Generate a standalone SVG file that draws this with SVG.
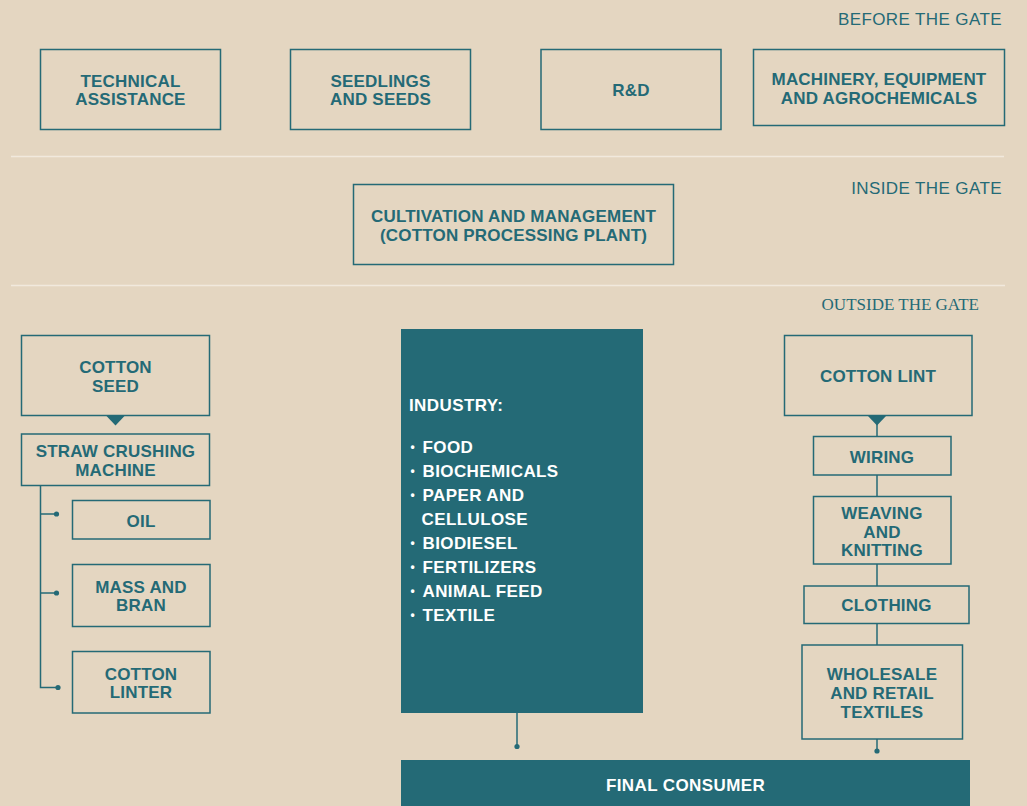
<svg xmlns="http://www.w3.org/2000/svg" width="1027" height="806" viewBox="0 0 1027 806">
  <style>
    .box { fill: none; stroke: #246A76; stroke-width: 1.5; }
    .solid { fill: #246A76; }
    .lbl { font-family: "Liberation Sans", Arial, sans-serif; font-weight: bold; font-size: 17px; letter-spacing: 0.2px; fill: #246A76; text-anchor: middle; }
    .inv { font-family: "Liberation Sans", Arial, sans-serif; font-weight: bold; font-size: 17px; letter-spacing: 0.4px; fill: #FFFFFF; }
    .bullet { font-family: "Liberation Sans", Arial, sans-serif; font-weight: bold; font-size: 12px; fill: #FFFFFF; text-anchor: middle; }
    .zone { font-family: "Liberation Sans", Arial, sans-serif; font-size: 17px; letter-spacing: 0.4px; fill: #246A76; text-anchor: end; }
    .zone-serif { font-family: "Liberation Serif", "Times New Roman", serif; font-size: 17px; fill: #246A76; text-anchor: end; }
    .divider { stroke: #F1E9DD; stroke-width: 1.5; }
    .wire { fill: none; stroke: #246A76; stroke-width: 1.5; }
    .dot { fill: #246A76; }
  </style>

  <rect x="0" y="0" width="1027" height="806" fill="#E4D6C1"/>

  <!-- zone headings and separators -->
  <g id="zones">
    <text class="zone" x="1002" y="25">BEFORE THE GATE</text>
    <line class="divider" x1="11" y1="156.5" x2="1004" y2="156.5"/>
    <text class="zone" x="1002" y="194">INSIDE THE GATE</text>
    <line class="divider" x1="11" y1="285.5" x2="1005" y2="285.5"/>
    <text class="zone-serif" x="979" y="310">OUTSIDE THE GATE</text>
  </g>

  <!-- before the gate -->
  <g id="technical-assistance">
    <rect class="box" x="40.5" y="49.5" width="180" height="80"/>
    <text class="lbl" x="130.5" y="87">TECHNICAL</text>
    <text class="lbl" x="130.5" y="105">ASSISTANCE</text>
  </g>
  <g id="seedlings-and-seeds">
    <rect class="box" x="290.5" y="49.5" width="180" height="80"/>
    <text class="lbl" x="380.5" y="87">SEEDLINGS</text>
    <text class="lbl" x="380.5" y="105">AND SEEDS</text>
  </g>
  <g id="r-and-d">
    <rect class="box" x="541" y="49.5" width="180" height="80"/>
    <text class="lbl" x="631" y="96">R&amp;D</text>
  </g>
  <g id="machinery">
    <rect class="box" x="753.5" y="49.5" width="251" height="76"/>
    <text class="lbl" x="879" y="85">MACHINERY, EQUIPMENT</text>
    <text class="lbl" x="879" y="103.5">AND AGROCHEMICALS</text>
  </g>

  <!-- inside the gate -->
  <g id="cultivation">
    <rect class="box" x="353.5" y="184.5" width="320" height="80"/>
    <text class="lbl" x="513.5" y="222">CULTIVATION AND MANAGEMENT</text>
    <text class="lbl" x="513.5" y="241">(COTTON PROCESSING PLANT)</text>
  </g>

  <!-- connectors -->
  <g id="connectors">
    <!-- cotton seed to crusher -->
    <polygon class="solid" points="106,415.5 125,415.5 115.5,425.5"/>
    <!-- crusher branches -->
    <polyline class="wire" points="40.5,485 40.5,687.5 58,687.5"/>
    <line class="wire" x1="40.5" y1="514" x2="56.5" y2="514"/>
    <line class="wire" x1="40.5" y1="593" x2="56.5" y2="593"/>
    <circle class="dot" cx="56.5" cy="514" r="2.6"/>
    <circle class="dot" cx="56.5" cy="593" r="2.6"/>
    <circle class="dot" cx="58" cy="687.5" r="2.6"/>
    <!-- lint chain -->
    <polygon class="solid" points="867.5,415.5 886.5,415.5 877,425.5"/>
    <line class="wire" x1="877" y1="424" x2="877" y2="436"/>
    <line class="wire" x1="877" y1="475" x2="877" y2="496"/>
    <line class="wire" x1="877" y1="564" x2="877" y2="586"/>
    <line class="wire" x1="877" y1="624" x2="877" y2="645"/>
    <line class="wire" x1="877" y1="739" x2="877" y2="751"/>
    <circle class="dot" cx="877" cy="751" r="2.6"/>
    <!-- industry to consumer -->
    <line class="wire" x1="517" y1="713" x2="517" y2="746.5"/>
    <circle class="dot" cx="517" cy="746.5" r="2.6"/>
  </g>

  <!-- outside the gate: cotton seed branch -->
  <g id="cotton-seed">
    <rect class="box" x="21.5" y="335.5" width="188" height="80"/>
    <text class="lbl" x="115.5" y="373">COTTON</text>
    <text class="lbl" x="115.5" y="391.5">SEED</text>
  </g>
  <g id="straw-crushing-machine">
    <rect class="box" x="21.5" y="434" width="188" height="51.5"/>
    <text class="lbl" x="115.5" y="457">STRAW CRUSHING</text>
    <text class="lbl" x="115.5" y="476">MACHINE</text>
  </g>
  <g id="oil">
    <rect class="box" x="72.5" y="500.5" width="137.5" height="38.5"/>
    <text class="lbl" x="141" y="527">OIL</text>
  </g>
  <g id="mass-and-bran">
    <rect class="box" x="72.5" y="564.5" width="137.5" height="62"/>
    <text class="lbl" x="141" y="593">MASS AND</text>
    <text class="lbl" x="141" y="611">BRAN</text>
  </g>
  <g id="cotton-linter">
    <rect class="box" x="72.5" y="651.5" width="137.5" height="61.5"/>
    <text class="lbl" x="141" y="680">COTTON</text>
    <text class="lbl" x="141" y="698">LINTER</text>
  </g>

  <!-- industry -->
  <g id="industry">
    <rect class="solid" x="401" y="329" width="242" height="384"/>
    <text class="inv" x="409" y="411">INDUSTRY:</text>
    <g class="bullet">
      <text x="412.5" y="451">•</text>
      <text x="412.5" y="475">•</text>
      <text x="412.5" y="499">•</text>
      <text x="412.5" y="547">•</text>
      <text x="412.5" y="571">•</text>
      <text x="412.5" y="595">•</text>
      <text x="412.5" y="619">•</text>
    </g>
    <g class="inv">
      <text x="422.5" y="453">FOOD</text>
      <text x="422.5" y="477">BIOCHEMICALS</text>
      <text x="422.5" y="501">PAPER AND</text>
      <text x="421.5" y="525">CELLULOSE</text>
      <text x="422.5" y="549">BIODIESEL</text>
      <text x="422.5" y="573">FERTILIZERS</text>
      <text x="422.5" y="597">ANIMAL FEED</text>
      <text x="422.5" y="621">TEXTILE</text>
    </g>
  </g>

  <!-- outside the gate: lint branch -->
  <g id="cotton-lint">
    <rect class="box" x="784.5" y="335.5" width="187.5" height="80"/>
    <text class="lbl" x="878" y="382">COTTON LINT</text>
  </g>
  <g id="wiring">
    <rect class="box" x="813.5" y="436.5" width="137.5" height="38.5"/>
    <text class="lbl" x="882" y="462.5">WIRING</text>
  </g>
  <g id="weaving-and-knitting">
    <rect class="box" x="813.5" y="496.5" width="137.5" height="67.5"/>
    <text class="lbl" x="882" y="519">WEAVING</text>
    <text class="lbl" x="882" y="537.5">AND</text>
    <text class="lbl" x="882" y="556">KNITTING</text>
  </g>
  <g id="clothing">
    <rect class="box" x="804" y="586" width="165" height="37.5"/>
    <text class="lbl" x="886.5" y="611">CLOTHING</text>
  </g>
  <g id="wholesale-and-retail">
    <rect class="box" x="802" y="645" width="160.5" height="94"/>
    <text class="lbl" x="882" y="679.5">WHOLESALE</text>
    <text class="lbl" x="882" y="698.5">AND RETAIL</text>
    <text class="lbl" x="882" y="717.5">TEXTILES</text>
  </g>

  <g id="final-consumer">
    <rect class="solid" x="401" y="760" width="569" height="46"/>
    <text class="inv" x="685.5" y="791" text-anchor="middle">FINAL CONSUMER</text>
  </g>
</svg>
